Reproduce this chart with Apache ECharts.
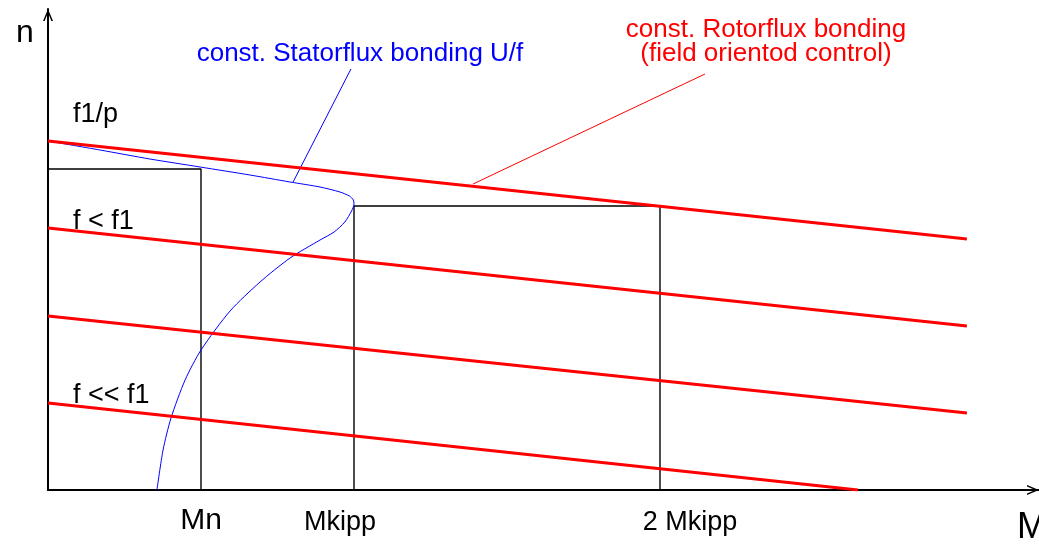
<!DOCTYPE html>
<html>
<head>
<meta charset="utf-8">
<script src="https://cdn.jsdelivr.net/npm/echarts@6/dist/echarts.min.js"></script>
<style>
  html, body { margin: 0; padding: 0; background: #fff; }
  #chart { width: 1039px; height: 544px; }
</style>
</head>
<body>
<div id="chart"></div>
<script>
// x: torque M (1 = Mkipp), y: speed n (arbitrary units, f1/p = 349)
const xMax = 3.2386
const yMax = 481

// constant rotor flux (field oriented control), one line per frequency
const rotorF1 = [[0, 349], [3.003, 251]]
const rotorF2 = [[0, 262], [3.003, 164]]
const rotorF3 = [[0, 174], [3.003, 77]]
const rotorF4 = [[0, 87], [2.647, 0]]

// constant stator flux U/f torque-speed curve
const statorCurve = [
  [0, 349], [0.170, 340], [0.333, 331], [0.497, 323], [0.660, 315],
  [0.791, 308], [0.889, 303], [0.954, 298], [0.985, 294], [0.998, 290],
  [1.0, 286], [0.992, 279], [0.970, 268], [0.935, 258], [0.889, 250],
  [0.791, 232], [0.693, 208], [0.595, 179], [0.5, 140], [0.448, 110],
  [0.402, 72], [0.376, 40], [0.356, 0]
]

// operating point boxes
const boxMn = [[0, 321], [0.5, 321], [0.5, 0]]
const boxKipp = [[1, 0], [1, 284], [2, 284], [2, 0]]

// leader lines from the labels
const leaderStator = [[0.801, 308], [0.990, 421]]
const leaderRotor = [[1.389, 306], [2.147, 416]]

const chart = echarts.init(document.getElementById("chart"))

const arrowPath = "path://M0,12 L5,0 L10,12 L8.4,12 L5,3.8 L1.6,12 Z"
const font = "Liberation Sans, Arial, sans-serif"

const line = (data, color, width, smooth) => ({
  type: "line",
  data: data,
  symbol: "none",
  smooth: smooth || false,
  lineStyle: { color: color, width: width },
  silent: true,
})

const txt = (text, x, y, size, color, align) => ({
  type: "text",
  x: x,
  y: y,
  style: {
    text: text,
    fill: color || "#000",
    font: size + "px " + font,
    align: align || "left",
    verticalAlign: "middle",
  },
})

const axisLine = {
  show: true,
  symbol: ["none", arrowPath],
  symbolSize: [11, 12],
  symbolOffset: [0, -6],
  lineStyle: { color: "#000", width: 2 },
}

const option = {
  animation: false,
  backgroundColor: "#fff",
  grid: { left: 48, right: 0, top: 9, bottom: 54 },
  xAxis: {
    type: "value",
    min: 0,
    max: xMax,
    axisLine: axisLine,
    axisTick: { show: false },
    axisLabel: { show: false },
    splitLine: { show: false },
  },
  yAxis: {
    type: "value",
    min: 0,
    max: yMax,
    axisLine: axisLine,
    axisTick: { show: false },
    axisLabel: { show: false },
    splitLine: { show: false },
  },
  series: [
    line(boxMn, "#000", 1.4),
    line(boxKipp, "#000", 1.4),
    line(statorCurve, "#0000ff", 1, 0.25),
    line(leaderStator, "#0000ff", 1),
    line(leaderRotor, "#ff0000", 1),
    line(rotorF1, "#ff0000", 3),
    line(rotorF2, "#ff0000", 3),
    line(rotorF3, "#ff0000", 3),
    line(rotorF4, "#ff0000", 3),
  ],
  graphic: [
    txt("n", 16, 33, 32),
    txt("M", 1017, 528, 36),
    txt("f1/p", 73, 115, 27),
    txt("f < f1", 73, 222, 27),
    txt("f << f1", 73, 396, 27),
    txt("Mn", 201, 521, 30, "#000", "center"),
    txt("Mkipp", 340, 523, 27, "#000", "center"),
    txt("2 Mkipp", 690, 523, 27, "#000", "center"),
    txt("const. Statorflux bonding U/f", 360, 54, 26, "#0000ff", "center"),
    txt("const. Rotorflux bonding", 766, 30, 26, "#ff0000", "center"),
    txt("(field orientod control)", 766, 54, 26, "#ff0000", "center"),
  ],
}

chart.setOption(option)
</script>
</body>
</html>
